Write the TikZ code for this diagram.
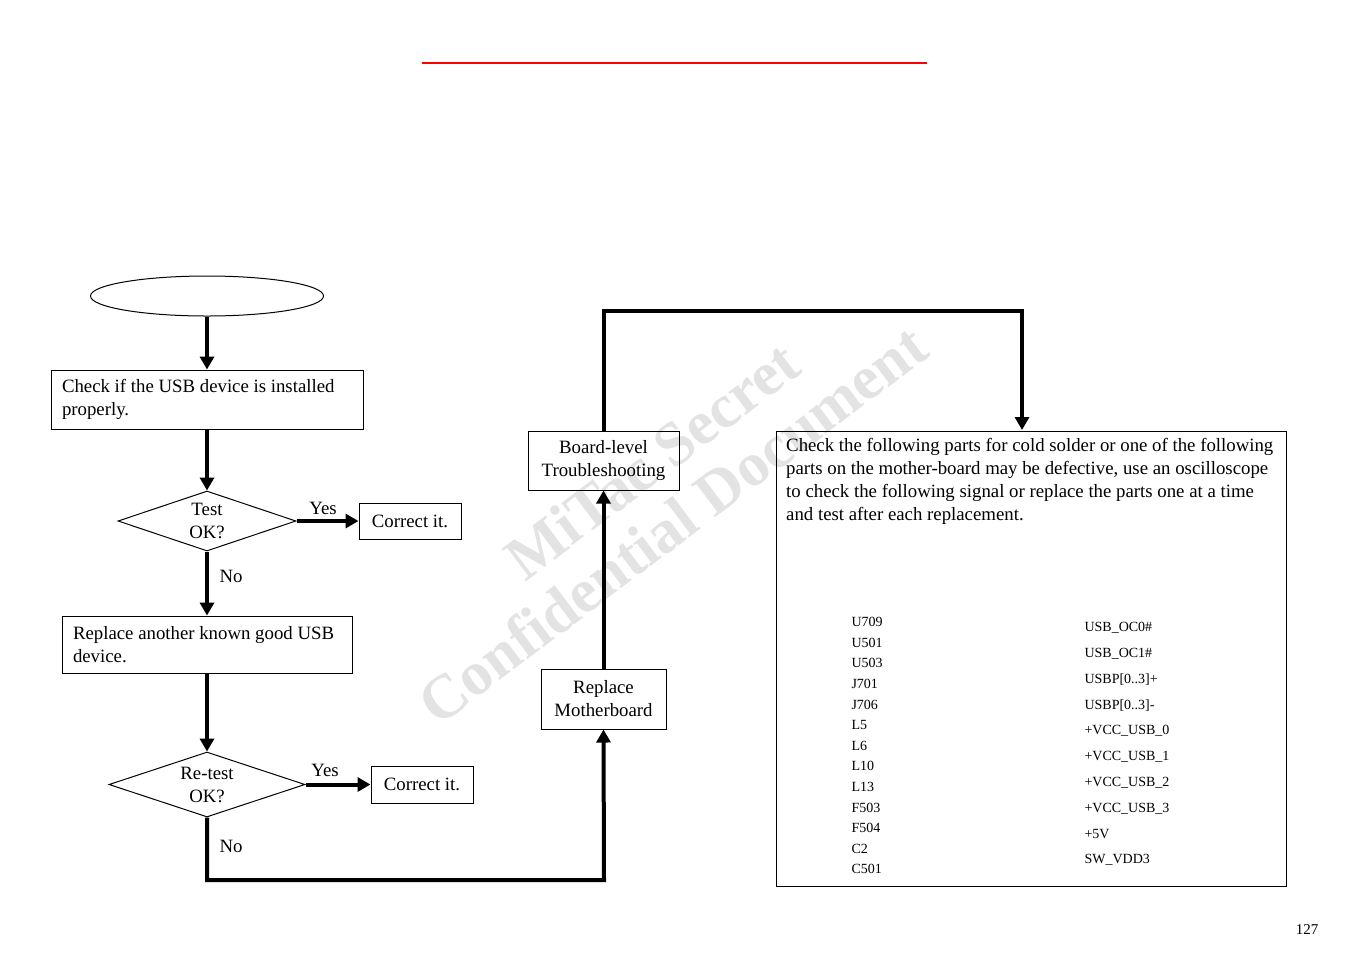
\documentclass[tikz,border=0pt]{standalone}
\usepackage{fontspec}
\setmainfont{Liberation Serif}
\usetikzlibrary{shapes.geometric,arrows.meta}
\begin{document}
\begin{tikzpicture}[x=1pt,y=-1pt,
  every node/.style={font=\fontsize{18.8}{23}\selectfont},
  box/.style={draw,line width=1pt,inner sep=0pt},
  dia/.style={draw,diamond,line width=1pt,inner sep=0pt,align=center},
  flow/.style={line width=4pt,-{Triangle[length=13pt,width=14pt]}},
  lbl/.style={font=\fontsize{18.8}{20}\selectfont},
  wm/.style={rotate=37,text=black!11,font=\fontsize{62}{66}\bfseries\selectfont},
  sm/.style={font=\fontsize{14}{16}\selectfont,anchor=west}]
\useasboundingbox (0,0) rectangle (1351,954);
\draw[red,line width=2pt] (422,63) -- (927,63);
% watermark
\node[wm] (wm1) at (652,460) {MiTac Secret};
\node[wm] (wm2) at (672,524) {Confidential Document};
\node[draw,ellipse,line width=1pt,minimum width=233,minimum height=40,inner sep=0pt] (st) at (207,296) {};
\node[box,minimum width=312,minimum height=59,text width=290,align=flush left] (b1) at (207,399.5) {Check if the USB device is installed\\properly.};
\node[dia,minimum width=178,minimum height=60,aspect=2.97] (d1) at (207,521) {Test\\OK?};
\node[box,minimum width=102,minimum height=36] (c1) at (410,521) {Correct it.};
\node[box,minimum width=290,minimum height=57,text width=268,align=flush left] (b2) at (207,644.5) {Replace another known good USB\\device.};
\node[dia,minimum width=196,minimum height=65,aspect=3.0] (d2) at (207,784.5) {Re-test\\OK?};
\node[box,minimum width=102,minimum height=37] (c2) at (422,784.5) {Correct it.};
\node[box,minimum width=125,minimum height=60,align=center] (rm) at (603.5,699) {Replace\\Motherboard};
\node[box,minimum width=151,minimum height=59,align=center] (bl) at (603.5,460.5) {Board-level\\Troubleshooting};
\node[box,minimum width=510,minimum height=455] (big) at (1031,658.5) {};
\node[anchor=north west,text width=500,align=flush left,inner sep=0pt] (bt) at (786,438) {Check the following parts for cold solder or one of the following\\parts on the mother-board may be defective, use an oscilloscope\\to check the following signal or replace the parts one at a time\\and test after each replacement.};
\foreach \t [count=\i] in {U709,U501,U503,J701,J706,L5,L6,L10,L13,F503,F504,C2,C501}
  \node[sm] (p\i) at (848,{622+(\i-1)*20.6}) {\t};
\foreach \t [count=\i] in {USB\_OC0\#,USB\_OC1\#,USBP[0..3]+,USBP[0..3]-,+VCC\_USB\_0,+VCC\_USB\_1,+VCC\_USB\_2,+VCC\_USB\_3,+5V,SW\_VDD3}
  \node[sm] (s\i) at (1081,{628+(\i-1)*25.8}) {\t};
\node[lbl] (y1) at (323,508) {Yes};
\node[lbl] (n1) at (231,576) {No};
\node[lbl] (y2) at (325,770) {Yes};
\node[lbl] (n2) at (231,846) {No};
\node[font=\fontsize{15}{18}\selectfont] (pg) at (1307,930) {127};
\draw[flow] (st) -- (b1);
\draw[flow] (b1) -- (d1);
\draw[flow] (d1) -- (c1);
\draw[flow] (d1) -- (b2);
\draw[flow] (b2) -- (d2);
\draw[flow] (d2) -- (c2);
\draw[flow] (d2.south) |- (604,880) -- (rm.south);
\draw[flow] (rm) -- (bl);
\draw[flow] (bl.north) |- (1022,311) -- (1022,430);
\end{tikzpicture}
\end{document}
